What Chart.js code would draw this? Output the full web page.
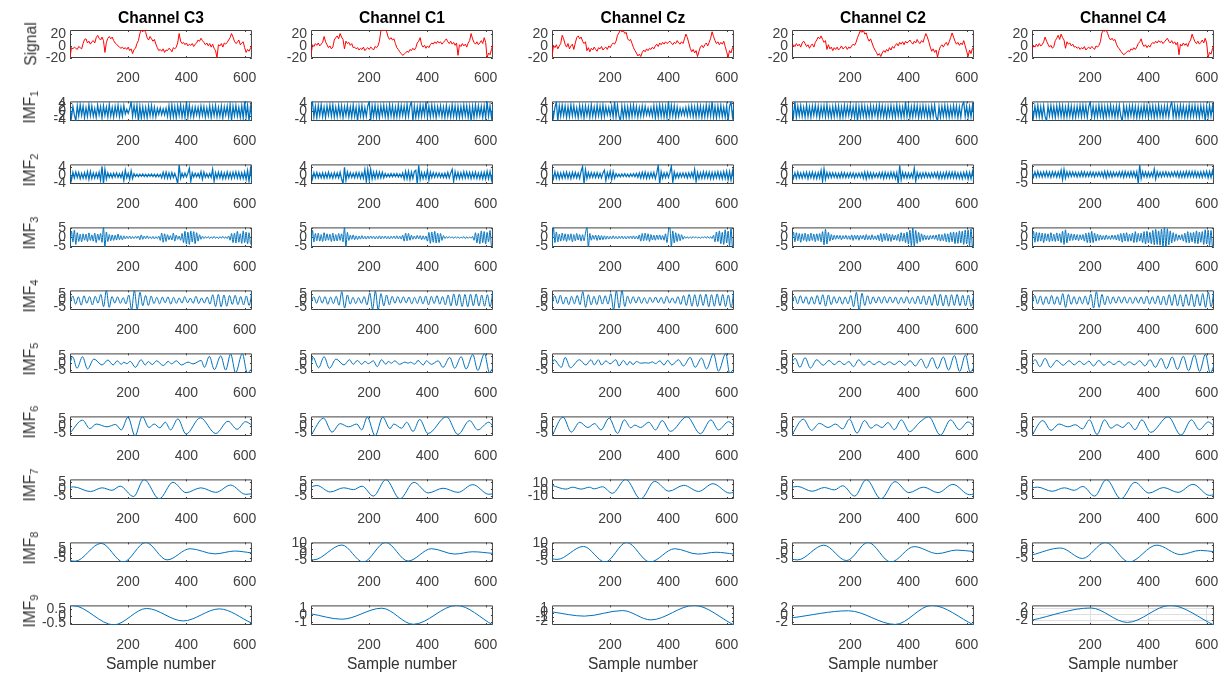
<!DOCTYPE html>
<html>
<head>
<meta charset="utf-8">
<script src="https://cdn.jsdelivr.net/npm/chart.js@4.4.1/dist/chart.umd.min.js"></script>
<style>
  html, body { margin: 0; padding: 0; background: #fff; }
  #fig { position: relative; width: 1224px; height: 673px; overflow: hidden;
         font-family: "Liberation Sans", Arial, Helvetica, sans-serif; }
  #fig canvas { position: absolute; }
  .ylab { position: absolute; font-size: 15.6px; color: #333; white-space: nowrap;
          line-height: 1; transform: translate(-50%, -50%) rotate(-90deg); }
  .ylab sub { font-size: 11px; vertical-align: -3px; }
</style>
</head>
<body>
<div id="fig"></div>
<script>
/* EMD of five EEG channels: raw signal + IMF1..IMF9, x = sample number 1..625 */
const CHANNELS = ['C3', 'C1', 'Cz', 'C2', 'C4'];
const ROW_NAMES = ['Signal', 'IMF', 'IMF', 'IMF', 'IMF', 'IMF', 'IMF', 'IMF', 'IMF', 'IMF'];
const ROW_SUBS  = ['', '1', '2', '3', '4', '5', '6', '7', '8', '9'];
const X_MIN = 1, X_MAX = 625;
const X_TICKS = [200, 400, 600];

/* ---- raw signal, evenly spaced over the samples ---- */
const SIG_C3 = [-20,-3,-5,-2,-4,-6,-1,-3,-5,4, 11,12,5,8,3,7,9,5,14,18, 13,10,15,9,-11,6,13,16,12,15,
  9,5,3,0,-2,-4,-2,-5,-3,-6, -2,-8,-5,-13,-6,-4,4,9,21,27, 24,27,23,14,10,16,12,8,11,3,
  -3,-8,-6,-9,-5,-11,-7,-8,-4,-6, -10,-3,-5,-2,5,21,8,4,6,2, 5,0,3,1,4,-1,3,5,10,8,
  13,9,6,2,5,0,4,-2,3,-4, -8,-20,2,0,4,-2,5,3,6,10, 14,21,15,8,4,6,10,2,5,7, -3,-11,-6,-9,-4,0];
const SIG_C1 = [-16,2,-1,4,1,5,0,3,6,16, 7,2,-3,0,-5,-2,10,14,17,12, 21,15,11,-5,8,4,6,1,4,-3,
  -2,-5,-3,-7,-4,-6,-2,-8,-5,-3, -6,-2,-4,-7,-1,-3,0,8,25,27, 26,27,24,15,11,14,10,12,4,-3,
  -6,-10,-13,-16,-14,-12,-9,-11,-6,-8, -4,-7,-3,5,8,14,2,-2,1,-4, 0,-3,2,5,3,7,4,8,5,7,
  3,6,9,12,7,4,8,3,6,1, 5,-16,2,-1,4,0,3,-2,5,9, 21,12,6,3,7,2,5,9,4,14, 6,-20,-12,-15,-6,2];
const SIG_CZ = [-19,1,-3,2,-5,0,4,18,12,3, -2,4,-5,0,3,-6,5,14,17,12, 15,8,4,7,-8,-3,-10,-4,-7,-2,
  -6,-9,-3,-5,-1,-7,-4,-2,-6,0, -3,2,5,3,8,18,22,27,24,26, 21,23,12,9,11,4,-3,-8,-12,-17,
  -14,-18,-11,-7,-10,-5,-8,-4,-6,-2, -5,0,3,-1,5,2,6,3,7,4, 6,8,5,2,6,4,9,5,3,7,
  4,12,20,14,5,-4,-10,-6,-12,-8, -18,-9,-2,1,-3,2,5,0,6,13, 24,16,9,4,7,2,6,3,8,-1, -10,-19,-8,-12,-3,-5];
const SIG_C2 = [-3,2,-1,4,0,3,-2,5,8,4, -1,2,-4,1,3,-2,6,10,15,12, 17,11,6,9,-6,2,-5,-2,-8,-3,
  -6,-2,-7,-4,0,-5,-3,-1,-6,-2, -4,0,3,1,6,14,20,26,23,27, 20,22,13,8,12,5,-2,-7,-11,-16,
  -13,-18,-12,-8,-11,-6,-9,-3,-7,-1, -4,1,4,0,6,3,7,2,8,5, 7,10,6,3,8,5,11,6,4,9,
  6,14,21,15,7,-2,-9,-5,-11,-7, -19,-8,-1,2,-2,3,6,1,7,14, 22,15,8,3,6,1,5,2,9,0, -9,-18,-7,-13,-4,-6];
const SIG_C4 = [-6,1,-2,3,-1,4,0,2,7,15, 8,3,-2,1,-4,-1,9,13,18,11, 20,14,10,-4,7,3,5,0,3,-2,
  -1,-4,-2,-6,-3,-5,-1,-7,-4,-2, -5,-1,-3,-6,0,-2,1,7,22,26, 25,27,21,14,10,13,9,11,3,-2,
  -5,-9,-12,-15,-13,-11,-8,-10,-5,-7, -3,-6,-2,4,7,12,3,-1,2,-3, 1,-2,3,6,4,8,5,9,6,8,
  4,7,10,13,8,5,9,4,7,2, 6,-15,3,0,5,1,4,-1,6,10, 20,13,7,4,8,3,6,10,5,13, 5,-19,-11,-14,-5,1];

/* ---- IMF1 ---- */
const IMF1_C3 = [1.5,-2.8,2.2,-1.6,-4.4,2.6,-2.1,3.0,-1.8,2.4, -2.9,1.7,-2.3,3.1,-1.9,2.5,-2.2,1.4,-2.7,2.9,
  -1.6,2.2,-3.0,2.6,-1.8,2.0,-2.5,3.2,-2.1,1.8, -2.6,2.3,-1.7,2.8,-2.4,1.9,-2.2,2.7,-1.2,1.0,
  -0.9,1.2,4.5,-2.3,2.6,-1.9,2.8,-4.4,2.4,-3.0, 2.1,-2.6,1.8,-2.9,2.5,-2.0,2.7,-2.3,1.9,-2.5,
  1.4,-1.3,1.6,-1.5,1.2,-1.6,1.5,-2.2,2.6,-2.8, 3.0,-2.4,2.2,-2.9,2.6,-1.8,3.1,-2.5,2.0,-2.7,
  4.5,-2.6,2.9,-2.2,1.8,-2.5,2.0,-1.6,1.9,-2.3, 2.5,-1.8,2.2,-2.6,1.7,-2.1,2.6,-2.8,2.3,-1.9,
  2.7,-2.4,1.8,-2.2,2.5,-3.0,2.1,-1.7,2.4,-2.6, 3.2,-4.3,2.4,-2.0,2.7,-2.2,1.9,-2.8,2.6,-3.1,
  4.5,-2.5,2.8,-4.4,2.2,-2.6];
const IMF1_C1 = [1.8,4.5,-2.6,2.3,-3.0,2.7,-1.9,3.1,-2.4,2.0, -2.8,2.5,-1.7,2.9,-2.2,3.0,-2.6,1.9,-2.4,2.7,
  -2.0,2.6,-2.9,2.2,-1.8,2.8,-2.5,2.1,-2.7,3.0, -2.3,1.9,-4.4,2.4,-2.1,2.8,-2.6,1.8,-2.3,2.5,
  4.5,-4.4,2.6,-2.2,2.9,-2.7,2.3,-3.0,2.5,-1.9, 2.8,-2.4,2.2,-2.9,3.1,-2.1,2.6,-2.8,2.0,-2.5,
  3.0,-2.3,2.7,-1.9,2.4,-2.6,3.2,-2.2,2.5,4.5, -4.3,2.4,-2.8,2.1,-2.5,2.9,-2.2,2.6,-1.8,4.5,
  -2.7,2.3,-2.5,3.0,-2.1,2.4,-2.9,2.2,-1.7,2.6, -2.4,2.0,-2.8,2.7,-2.3,1.9,-2.6,3.1,-2.2,2.5,
  -3.0,2.4,-2.7,2.2,-2.5,2.9,-2.1,2.6,-2.8,2.3, -4.4,2.4,-2.7,3.0,-2.2,2.6,-1.9,2.3,-2.8,2.5,
  -3.0,4.5,-2.2,2.6,-2.9,2.1];
const IMF1_CZ = [2.0,-2.7,1.8,4.3,-4.4,2.6,-2.2,2.9,-1.9,2.5, -2.8,2.2,-2.4,3.0,-2.0,2.6,-2.3,1.7,-2.9,2.7,
  -2.1,2.4,-3.0,2.5,-1.9,2.2,-2.7,3.1,-2.2,2.0, -2.5,2.8,-2.0,2.4,-2.6,2.9,-2.3,2.1,-1.6,1.8,
  -2.0,2.3,-2.5,4.5,-2.6,2.8,-2.2,-4.4,2.5,-2.9, 2.4,-2.7,2.1,-2.8,2.6,-2.3,2.9,-2.1,2.2,-2.6,
  1.8,-2.2,2.5,-2.0,2.3,-1.6,1.5,-1.8,1.7,-2.1, 2.6,-2.9,2.4,-2.5,3.0,-2.2,2.7,-2.6,2.2,-2.8,
  4.5,-2.4,2.8,-2.1,2.5,-2.7,2.0,-2.3,1.5,-1.6, 1.4,-1.7,1.8,-2.0,2.2,-1.9,2.5,-2.4,2.1,-2.6,
  2.7,-2.2,2.4,-2.8,2.0,-2.5,2.9,-2.3,2.6,-2.1, 4.5,-2.6,2.3,-2.9,2.5,-2.2,2.8,-2.4,2.0,-2.7,
  2.6,-4.4,2.3,4.5,-2.5,2.2];
const IMF1_C2 = [2.2,-2.5,4.5,-2.8,2.4,-2.0,2.7,-2.3,1.9,-2.6, 3.0,-2.4,2.1,-2.7,2.5,-1.8,2.8,-2.2,2.4,-2.9,
  2.3,-2.0,2.6,-2.5,3.1,-2.3,1.9,-2.8,2.2,-2.4, 2.7,-2.1,2.5,-2.9,2.0,-2.6,2.8,-2.2,2.4,-1.9,
  2.6,-2.4,2.2,-2.7,2.9,-4.4,2.3,-2.5,2.8,-2.1, 2.4,-2.8,2.0,-2.3,2.7,-2.6,2.2,-1.9,2.5,-2.8,
  3.0,-2.2,2.6,-2.4,2.1,-2.9,2.3,-2.0,2.7,-2.5, 2.2,-2.6,2.9,-2.1,2.4,-2.7,2.0,-2.4,4.5,-2.3,
  2.5,-2.8,2.1,-2.5,2.8,-2.0,2.6,-2.9,2.2,-2.4, 2.7,-2.1,2.3,-2.6,2.0,-2.8,2.5,-2.2,2.9,-2.5,
  -4.4,2.2,-2.7,2.4,-2.1,2.8,-2.5,2.3,-2.6,2.0, -2.4,2.7,-2.2,2.5,-2.9,2.1,-2.6,2.8,4.5,-2.3,
  2.4,-2.7,2.2,-2.5,2.8,-2.0];
const IMF1_C4 = [1.9,-2.6,2.4,-2.2,2.8,-2.5,2.1,-2.9,2.6,-2.3, -4.4,2.5,-2.0,2.7,-2.4,2.2,-2.8,2.5,-2.1,2.9,
  -2.3,2.6,-2.7,2.0,-2.5,2.8,-2.2,2.4,-2.9,2.1, -2.6,2.3,-2.0,2.7,-2.4,2.9,-2.1,2.5,-2.8,2.2,
  4.5,-2.5,2.3,-2.7,2.1,-2.4,2.8,-2.0,2.6,-2.9, 2.2,-2.6,2.5,-2.1,2.9,-2.3,2.0,-2.7,2.4,-2.5,
  2.8,-2.2,-4.4,2.6,-2.4,2.1,-2.8,2.5,-2.0,2.7, -2.5,2.3,-2.9,2.2,-2.6,2.0,-2.4,2.8,-2.1,2.5,
  -2.7,2.4,-2.2,2.6,-2.8,2.1,-2.5,2.9,-2.3,2.0, -2.6,2.4,-2.1,2.7,-2.5,2.2,4.5,-2.4,2.6,-2.8,
  2.1,-2.5,2.8,-2.2,2.4,-2.7,2.0,-2.6,2.9,-2.3, 2.5,-2.1,2.7,-2.4,2.2,-2.8,2.6,-2.0,2.4,-4.4,
  2.3,-2.6,2.8,-2.2,2.5,-2.1];

/* ---- IMF2 ---- */
const IMF2_C3 = [1.2,-2.4,1.5,-1.3,1.6,-1.1,1.4,-1.7,1.0,-1.4, 1.3,-1.5,1.8,-2.0,1.9,-1.6,1.2,-1.4,1.1,-1.3,
  1.5,-2.5,4.5,-4.1,3.0,-1.8,1.2,-1.0,0.9,-1.2, 1.1,-0.9,1.2,-1.0,0.8,-1.1,1.3,-2.6,2.5,-1.2,
  1.0,-2.0,2.2,-1.6,0.8,-0.6,0.5,-0.7,0.6,-0.5, 0.7,-0.6,0.5,-0.7,0.6,-0.5,0.7,-0.6,0.5,-0.8,
  0.6,-0.7,0.5,-1.2,1.5,-1.3,1.6,-1.4,1.2,-1.5, 1.3,-1.1,0.9,-1.2,-4.3,5.3,-1.5,1.0,-0.9,1.1,
  -0.8,1.0,3.5,-3.0,1.2,-0.9,1.0,-0.8,0.9,-1.0, 1.8,-2.0,1.6,-1.0,0.8,-1.1,0.9,-1.0,3.0,-3.0,
  1.3,-1.4,1.6,-1.3,1.5,-1.7,1.2,-1.5,1.6,-1.4, 1.3,-1.6,1.5,-1.2,1.7,-1.4,1.5,-1.6,1.3,-1.5,
  1.6,-2.0,2.4,-3.0,3.2,-2.8];
const IMF2_C1 = [2.0,-1.8,1.3,-1.1,1.4,-1.2,1.0,-1.3,1.2,-1.4, 1.1,-1.3,1.5,-1.2,1.0,-1.4,1.3,-1.1,1.2,-1.3,
  1.5,-1.8,-4.2,4.0,-2.5,1.6,-1.2,1.3,-1.1,1.0, -1.2,1.4,-1.1,1.3,-1.5,1.2,-1.4,2.8,-3.2,3.0,
  -2.4,3.0,-1.8,1.6,-1.5,1.7,-1.4,1.6,-1.3,1.5, -1.2,0.9,-0.8,0.7,-0.8,0.9,-0.7,0.8,-0.6,0.9,
  -0.8,0.7,-0.9,1.2,-1.8,2.0,-1.7,1.9,-2.1,1.6, -1.5,1.8,2.5,-4.3,5.0,-2.0,1.4,-1.6,1.3,-1.5,
  2.5,-2.4,1.6,-1.2,1.3,-1.0,1.2,-0.9,1.1,-1.0, 0.9,-1.1,1.0,-1.2,1.4,-1.3,1.1,3.0,-3.1,1.8,
  -1.5,1.4,-1.6,1.3,-1.5,1.7,-1.4,1.6,-1.3,1.5, -1.6,1.4,-1.3,1.6,-1.5,1.2,-1.6,1.4,-1.7,1.5,
  -1.8,2.0,-1.6,1.9,-2.2,1.6];
const IMF2_CZ = [1.4,-1.6,1.8,-1.5,1.3,-1.7,1.2,-1.5,1.4,-1.3, 1.6,-1.4,1.2,-1.6,1.5,-1.2,1.4,-1.3,1.1,-1.5,
  2.0,4.3,-4.2,2.8,-1.6,1.4,-1.2,1.3,-1.0,1.2, -1.1,1.3,-1.2,1.0,-1.3,1.1,2.5,-2.6,1.4,-1.2,
  2.0,-2.2,1.8,-1.4,0.8,-0.7,0.6,-0.8,0.7,-0.6, 0.8,-0.7,0.6,-0.8,0.7,-0.6,0.8,-0.7,0.9,-1.0,
  1.2,-1.4,1.5,-1.3,1.6,-1.5,1.2,-1.4,1.3,-1.1, 1.4,-1.6,1.2,5.0,-4.3,1.8,-1.4,1.2,-1.1,1.3,
  -1.0,1.2,4.5,-3.5,1.6,-1.3,1.0,-1.2,1.1,-0.9, 1.2,-1.0,1.1,-1.3,1.2,-1.0,1.4,-1.2,3.0,-3.1,
  1.4,-1.6,1.3,-1.5,1.7,-1.4,1.6,-1.3,1.5,-1.7, 1.4,-1.6,1.5,-1.3,1.7,-1.5,1.4,-1.6,1.8,-1.5,
  2.0,-2.2,1.8,-2.4,2.1,-1.9];
const IMF2_C2 = [1.3,-1.5,1.2,-1.4,1.6,-1.3,1.1,-1.4,1.3,-1.2, 1.5,-1.7,1.4,-1.2,1.6,-1.5,1.3,-1.6,1.4,-1.3,
  2.4,-3.0,3.2,-2.0,1.4,-1.2,1.3,-1.1,1.2,-1.0, 1.1,-1.3,1.0,-1.2,1.4,-1.1,1.3,-1.2,1.0,-1.1,
  1.2,-1.0,1.1,-1.3,1.0,-0.9,1.1,-1.0,1.2,-1.4, 1.6,-1.8,1.5,-1.3,1.2,-1.4,1.1,-1.0,0.9,-1.1,
  1.3,-1.2,1.4,-1.6,1.5,-1.3,1.2,-1.4,1.5,-1.2, 1.4,-1.6,1.3,-4.3,5.0,-2.2,1.5,-1.3,1.2,-1.4,
  1.1,-1.3,1.0,-1.2,3.5,-3.0,1.4,-1.2,1.1,-1.3, 1.2,-1.0,1.3,-1.1,1.0,-1.2,1.1,-1.0,1.3,-1.1,
  1.4,-1.6,1.3,-1.5,1.2,-1.4,1.6,-1.3,1.5,-1.2, 1.5,-1.3,1.6,-1.4,1.2,-1.5,1.3,-1.6,1.4,-1.2,
  1.6,-1.8,1.5,-1.7,2.0,-1.9];
const IMF2_C4 = [1.5,-1.7,1.4,-1.6,1.8,-1.5,1.3,-1.6,1.5,-1.4, 1.7,-1.5,1.4,-1.8,1.6,-1.3,1.5,-1.7,1.4,-1.6,
  2.5,-3.2,3.0,-2.2,1.6,-1.4,1.5,-1.3,1.4,-1.2, 1.3,-1.5,1.2,-1.4,1.6,-1.3,1.5,-1.4,1.2,-1.3,
  1.4,-1.2,1.3,-1.5,1.2,-1.1,1.3,-1.2,1.4,-1.6, 1.8,-2.0,1.7,-1.5,1.4,-1.6,1.3,-1.2,1.1,-1.3,
  1.5,-1.4,1.6,-1.8,1.7,-1.5,1.4,-1.6,1.7,-1.4, 1.6,-1.8,1.5,-5.5,5.8,-2.5,1.7,-1.5,1.4,-1.6,
  1.3,-1.5,1.2,-1.4,3.2,-2.8,1.6,-1.4,1.3,-1.5, 1.4,-1.2,1.5,-1.3,1.2,-1.4,1.3,-1.2,1.5,-1.3,
  1.6,-1.8,1.5,-1.7,1.4,-1.6,1.8,-1.5,1.7,-1.4, 1.7,-1.5,1.8,-1.6,1.4,-1.7,1.5,-1.8,1.6,-1.4,
  1.8,-2.0,1.7,-1.9,2.2,-2.1];

/* ---- IMF3 ---- */
const IMF3_C3 = [-5.2,3.5,-2.5,4.0,-3.8,2.6,-2.2,1.8,-2.4,2.0, -1.5,1.8,-2.2,2.5,-1.6,1.4,-2.0,2.4,-2.8,1.9,
  -1.5,2.2,-2.6,5.5,-5.2,3.0,-2.2,1.6,-1.8,1.4, -1.6,1.2,-1.4,1.8,-1.2,1.0,-1.3,0.9,-0.8,0.7,
  -0.6,0.8,-0.7,0.5,-0.6,0.7,-0.5,0.8,-1.2,1.4, -1.0,0.8,-0.7,0.9,-0.6,0.5,-0.7,0.6,-0.8,0.5,
  -0.6,0.7,-1.6,2.4,-2.6,2.0,-2.2,1.5,-1.2,1.0, -1.4,2.4,-2.0,1.3,-1.0,0.8,-1.5,2.2,-2.8,3.4,
  -3.6,3.0,-3.8,3.6,-2.5,3.2,-3.4,2.6,-2.0,1.5, -1.0,0.7,-0.6,0.5,-0.4,0.5,-0.6,0.4,-0.5,0.6,
  -0.5,0.4,-0.6,0.5,-0.4,0.6,-0.5,0.4,-0.6,0.8, -1.5,2.2,-2.8,2.4,-3.0,3.4,-2.6,2.0,-3.2,3.6,
  -2.8,3.0,-3.5,2.6,-3.2,-4.0];
const IMF3_C1 = [-5.0,4.0,-2.5,2.2,-1.8,2.4,-2.0,1.6,-2.2,2.6, -1.8,2.0,-1.5,1.8,-2.2,2.4,-2.0,1.6,-1.9,2.2,
  -1.6,2.0,-2.4,5.5,-5.2,2.8,-1.6,1.2,-1.0,1.4, -1.2,0.9,-1.1,0.8,-0.9,1.0,-0.8,0.7,-0.9,0.8,
  -0.7,0.8,-0.6,0.7,-0.8,0.6,-0.7,0.9,-0.8,0.7, -0.6,0.8,-0.7,0.6,-0.8,0.7,-0.6,0.8,-0.7,0.9,
  -0.8,0.7,-0.9,1.2,-2.0,2.4,-1.8,2.2,-1.5,1.2, -1.0,0.8,-0.9,1.1,-0.8,1.0,-1.2,0.9,-1.0,0.8,
  -2.0,2.8,-3.2,3.0,-2.6,3.4,-3.0,2.4,-2.8,2.2, -1.6,1.0,-0.6,0.5,-0.4,0.5,-0.3,0.4,-0.5,0.4,
  -0.3,0.4,-0.5,0.3,-0.4,0.5,-0.6,0.4,-0.5,0.3, -0.4,0.6,-1.5,2.6,-3.0,2.2,-3.4,3.6,-2.8,3.2,
  -3.6,2.8,-2.4,3.8,-4.5,-5.0];
const IMF3_CZ = [-5.2,5.5,-2.8,3.0,-2.4,1.8,-2.0,2.4,-1.6,2.0, -2.2,1.8,-1.5,2.0,-2.4,1.6,-1.8,2.2,-1.4,1.6,
  -2.0,1.5,-1.8,2.4,5.5,-5.2,2.2,-1.5,1.2,-1.0, 1.3,-1.6,1.2,-1.4,1.0,-1.2,0.9,-1.0,0.8,-0.9,
  0.7,-0.8,0.9,-0.7,0.6,-0.8,0.7,-0.6,0.8,-0.7, 0.6,-0.8,0.7,-0.6,0.8,-0.7,0.9,-0.8,0.7,-0.9,
  1.4,-2.0,2.2,-1.8,2.4,-1.6,2.0,-2.2,1.6,-1.4, 1.2,-1.5,1.3,-1.1,1.4,-1.2,1.0,-1.5,2.0,-2.8,
  3.5,5.4,-5.0,3.6,-3.0,2.6,-2.2,2.0,-1.8,1.5, -1.0,0.6,-0.5,0.4,-0.5,0.3,-0.4,0.5,-0.3,0.4,
  -0.4,0.3,-0.5,0.4,-0.3,0.5,-0.4,0.6,-0.5,0.4, -0.6,1.2,-2.4,3.0,-2.2,3.6,-3.4,2.8,-3.8,4.2,
  -3.0,3.5,-4.6,5.0,-5.2,-3.0];
const IMF3_C2 = [-2.0,3.0,-2.4,2.6,-1.8,2.2,-2.6,2.0,-1.6,2.4, -2.2,1.8,-2.0,2.4,-1.6,1.9,-2.3,2.0,-1.7,2.1,
  -2.4,3.2,-4.0,4.5,-3.6,2.8,-2.0,1.6,-1.4,1.2, -1.0,1.2,-0.9,1.1,-1.3,1.0,-0.8,1.2,-1.0,0.9,
  -1.1,1.4,-1.6,1.2,-1.0,1.3,-1.5,1.1,-0.9,1.2, -1.4,1.6,-1.2,1.0,-1.3,1.5,-1.1,0.9,-1.2,1.4,
  -1.8,2.2,-2.4,2.0,-1.6,2.3,-2.0,1.8,-2.2,1.6, -1.4,1.2,-1.6,1.8,-2.2,2.6,-2.0,2.4,-2.8,3.0,
  -3.6,4.0,-4.5,5.2,-4.8,3.8,-3.2,2.8,-2.4,2.0, -1.6,1.4,-1.2,1.0,-1.3,1.1,-0.9,1.2,-1.0,1.4,
  -1.6,1.8,-2.0,1.6,-1.8,2.2,-2.4,2.0,-2.6,2.8, -2.4,3.0,-3.4,2.8,-3.2,3.6,-3.0,3.4,-3.8,4.0,
  -3.5,4.2,-4.6,4.8,-5.0,-2.5];
const IMF3_C4 = [-3.0,3.5,-2.6,2.8,-2.2,2.6,-2.0,2.4,-2.8,2.2, -1.8,2.0,-2.4,2.6,-2.0,1.8,-2.2,2.5,-1.9,2.1,
  -2.8,3.4,-3.8,4.2,-3.0,2.4,-1.8,2.0,-1.6,1.8, -1.4,1.6,-1.8,1.5,-1.2,1.6,-2.0,2.4,-2.8,2.6,
  -3.0,3.4,-2.8,2.4,-2.0,1.8,-1.6,1.4,-1.2,1.0, -1.2,1.4,-1.0,0.9,-1.1,1.3,-1.0,1.2,-1.4,1.6,
  -1.8,2.2,-2.6,2.4,-2.0,2.6,-2.2,1.8,-2.0,2.4, -2.8,3.2,-2.6,2.2,-2.0,2.4,-2.8,3.2,-3.6,3.4,
  -3.0,2.8,-3.4,3.8,-4.0,4.4,-3.8,3.6,-4.2,4.6, -5.0,5.5,-5.2,4.8,-4.0,3.6,-3.0,2.6,-2.2,2.0,
  -1.6,1.4,-1.2,1.6,-2.0,2.4,-2.8,3.2,-3.0,2.6, -2.4,2.8,-3.2,3.6,-3.4,3.0,-2.6,3.2,-3.8,4.2,
  -3.6,4.0,-4.4,3.8,-4.8,-3.0];

/* ---- IMF4 (one value per half cycle) ---- */
const IMF4_C3 = [-2.5,3.2,-3.0,2.6,-3.8,3.4,-2.4,2.8,-3.6,3.0, -2.2,4.4,-5.0,7.5,-5.5,2.8,-2.2,2.6,-2.4,2.0,
  -2.8,4.0,-7.5,7.5,-7.0,6.0,-4.2,3.6,-4.0,3.2, -2.6,2.2,-2.8,2.4,-2.0,2.6,-3.0,2.2,-2.4,1.8,
  -2.2,2.8,-2.0,1.6,-2.4,3.0,-2.6,1.8,-2.2,2.4, -3.0,4.2,-4.8,4.4,-5.0,4.0,-4.6,3.6,-3.2,3.8,
  -3.4,2.8,-3.6,3.2,-4.0,6.0];
const IMF4_C1 = [-2.0,2.6,-2.4,3.0,-2.2,2.8,-3.2,2.4,-2.6,3.0, -3.8,6.5,-6.0,4.0,-3.0,2.2,-2.6,2.0,-2.4,2.8,
  -3.6,5.5,-7.0,7.0,-7.5,5.0,-4.4,4.0,-3.6,3.0, -2.4,2.8,-2.2,2.6,-2.0,2.4,-2.8,2.2,-2.6,3.0,
  -2.8,3.2,-3.6,3.0,-2.6,3.4,-3.0,2.8,-3.6,4.0, -4.4,4.8,-4.2,4.6,-4.8,4.4,-5.0,4.6,-4.2,4.8,
  -4.4,4.0,-4.6,4.2,-5.0,7.0];
const IMF4_CZ = [-2.8,3.4,-2.6,3.8,-3.0,2.4,-3.4,3.0,-2.8,3.6, -3.4,6.5,-5.5,4.2,-3.6,3.0,-3.4,3.8,-3.0,3.4,
  -3.0,5.0,-7.5,7.0,-6.0,7.5,-4.8,3.2,-2.6,2.8, -2.2,2.6,-2.4,2.0,-2.6,2.2,-1.8,2.4,-2.0,2.2,
  -2.6,3.0,-2.2,1.8,-2.4,2.8,-3.2,3.6,-4.0,4.4, -4.6,4.2,-4.8,4.4,-4.0,4.6,-5.0,4.2,-4.6,4.8,
  -4.2,4.4,-4.8,4.0,-5.5,7.2];
const IMF4_C2 = [-2.6,3.0,-2.8,3.4,-2.4,2.8,-3.2,2.6,-3.0,3.6, -3.2,4.2,-4.6,4.0,-3.4,2.8,-2.4,2.6,-3.0,2.4,
  -2.8,3.6,-5.0,6.0,-7.5,5.2,-4.0,3.4,-3.0,2.6, -2.2,2.6,-2.4,2.8,-2.2,2.6,-2.0,2.4,-2.8,2.2,
  -2.4,2.8,-2.6,2.2,-2.8,3.2,-3.0,3.4,-3.6,3.2, -4.0,4.4,-4.2,4.6,-4.4,4.0,-4.6,4.2,-4.0,4.4,
  -4.2,3.8,-4.4,4.0,-4.6,4.2];
const IMF4_C4 = [-3.0,3.6,-2.8,3.2,-3.4,2.8,-3.0,3.6,-3.2,2.8, -3.6,5.0,-5.5,4.4,-3.2,2.8,-3.0,2.6,-2.8,3.2,
  -3.4,4.6,-6.0,6.5,-5.5,4.4,-3.6,3.2,-2.8,2.6, -2.4,2.8,-2.2,2.6,-2.4,2.2,-2.6,2.4,-2.2,2.6,
  -2.8,3.2,-3.0,2.6,-2.8,3.4,-3.6,3.2,-3.8,4.2, -4.0,4.6,-4.4,4.2,-4.8,4.4,-4.2,4.8,-5.0,4.6,
  -4.4,5.0,-5.5,6.0,-5.0,7.0];

/* ---- IMF5..IMF9: [sample, value] at the turning points ---- */
const IMF5_C3 = [[1,0],[10,4.7],[25,-3.7],[44,4.7],[61,-4.2],[83,3],[111,-1.3],[131,2.3],[149,-1.3],[163,1.7],
  [177,-0.8],[185,0.7],[196,-0.3],[208,1.3],[225,-3],[245,2.5],[259,-1.3],[270,1.2],[283,-1],[298,1.7],
  [321,-1.7],[338,1.3],[349,-0.5],[366,1.7],[383,-1.3],[406,0.8],[423,-0.5],[451,2],[462,-3],[479,5],
  [496,-4.7],[518,5.3],[535,-5],[552,6.7],[569,-7],[592,7],[609,-7],[625,-4]];
const IMF5_C1 = [[1,-0.8],[8,4.2],[27,-3.3],[46,4.7],[64,-3.7],[87,3],[114,-1.3],[133,2.5],[146,-0.8],[160,2],
  [175,-0.8],[186,1.3],[198,-0.3],[215,1.7],[228,-2.5],[243,2.5],[258,-0.8],[266,1.3],[277,0],[288,1.7],
  [305,-0.8],[323,0.8],[334,0],[342,0.7],[357,-0.7],[368,2],[386,-1.3],[397,1.7],[414,-0.8],[437,1.7],
  [454,-3],[477,4.2],[494,-3.7],[516,4.7],[533,-4.2],[556,6.3],[573,-5.3],[596,7],[613,-6.7],[625,-3.3]];
const IMF5_CZ = [[1,0],[8,2.5],[33,-3],[46,4.2],[64,-3.3],[95,2.5],[117,-1.3],[135,2.5],[146,-1.3],[160,2.5],
  [171,-1.3],[186,1.7],[200,-0.5],[220,2.5],[231,-2],[246,2],[259,-1.3],[268,1.3],[279,-1],[291,1.3],
  [305,0],[322,0.3],[333,0],[345,1],[356,-0.3],[371,1.7],[385,-1.3],[398,2],[412,-1.3],[435,2.5],
  [452,-2],[475,4.2],[492,-3],[514,3.7],[531,-4.2],[555,7],[572,-5.8],[597,7],[610,-7],[625,-4.2]];
const IMF5_C2 = [[1,1],[12,3.5],[28,-3],[46,4],[64,-3.5],[86,2.5],[108,-1.5],[128,2],[146,-1],[163,1.5],
  [180,-1],[196,1.2],[212,-2.5],[230,2.5],[248,-1.5],[265,1.5],[282,-1],[300,1.2],[318,-1.2],[335,1],
  [352,-1],[370,1.5],[388,-1.5],[406,1.8],[424,-2],[444,3],[462,-3.5],[482,4],[500,-4],[520,4.5],
  [538,-5],[558,5.5],[576,-6],[596,6],[612,-6.5],[625,-3]];
const IMF5_C4 = [[1,0.5],[12,2.5],[28,-2.5],[46,3.5],[64,-3],[86,2],[108,-1.5],[128,1.8],[146,-1.2],[163,1.5],
  [180,-1],[196,1.5],[212,-2],[230,2],[248,-1.5],[265,1.2],[282,-1],[300,1.5],[318,-1.5],[335,1],
  [352,-1.2],[370,1.8],[388,-2],[406,2.5],[424,-3],[444,3.5],[462,-4],[482,4.5],[500,-4.5],[520,5],
  [538,-5.5],[558,6],[576,-6],[596,6.5],[612,-7],[625,-2]];

const IMF6_C3 = [[1,-5],[44,4.3],[69,-1.8],[91,1.5],[128,-0.5],[157,1.2],[177,-2.7],[200,6.5],[224,-7],[249,6.8],
  [272,-1],[290,1.5],[309,-1.2],[328,2.8],[346,-2.7],[371,5.2],[399,-5.7],[448,6],[501,-5.3],[543,3.5],
  [574,-2.3],[603,3.2],[625,0.7]];
const IMF6_C1 = [[1,-6.5],[44,5.7],[73,-4.3],[101,1.8],[130,-0.5],[158,1.5],[175,-2.7],[194,6.5],[221,-7],[247,6.5],
  [272,-1.8],[285,1.5],[312,-1.5],[329,2.8],[351,-3.8],[374,4.8],[402,-5.3],[466,6.8],[505,-6],[545,4],
  [573,-2.7],[611,2.8],[625,0]];
const IMF6_CZ = [[1,-7],[39,6.5],[67,-4.3],[96,2.8],[124,-1],[147,1.8],[169,-2.7],[197,5.7],[226,-5.2],[249,4.5],
  [271,-1.2],[285,0.7],[305,-1],[333,2.8],[356,-2.7],[379,4],[407,-3.8],[464,6.8],[510,-5.5],[546,4.5],
  [572,-2.7],[607,3.2],[625,0.2]];
const IMF6_C2 = [[1,-6],[40,5],[68,-3],[95,2],[125,-1],[150,1.5],[175,-2],[198,5],[224,-5],[250,4],
  [272,-1.5],[290,1],[310,-1],[330,2.5],[352,-2.5],[376,4.5],[404,-4],[440,3],[470,6.8],[510,-6.5],
  [545,4.5],[575,-2.5],[605,3],[625,0]];
const IMF6_C4 = [[1,-6.5],[38,4],[66,-3],[94,1.5],[124,-0.5],[150,1],[174,-2],[198,4.5],[224,-6],[250,4.5],
  [272,-1.5],[292,1],[312,-1],[332,2.5],[354,-2.5],[378,4.5],[408,-4.5],[468,6.8],[512,-6.5],[548,4.5],
  [575,-2.5],[606,3],[625,0]];

const IMF7_C3 = [[1,1.3],[13,1.7],[71,-1.7],[111,1],[145,-0.8],[173,2.2],[219,-5.3],[255,7],[307,-7],[354,5],
  [399,-2.5],[450,1],[501,-2.3],[552,3],[603,-3.7],[625,-3.3]];
const IMF7_C1 = [[1,1.7],[21,2.7],[67,-2],[113,1],[147,-0.3],[176,2.2],[215,-5],[258,7],[306,-7],[354,5],
  [403,-2.7],[454,0.7],[505,-2.3],[556,3.3],[611,-3.7],[625,-3.2]];
const IMF7_CZ = [[1,7.2],[49,1.4],[72,4.3],[101,1.4],[129,4.3],[146,1.8],[174,5],[208,-5],[254,16.3],[305,-13.8],
  [353,13.3],[402,-1.8],[453,7.2],[504,-2.2],[553,9.7],[610,-4.7],[625,-3.6]];
const IMF7_C2 = [[1,1.5],[20,2],[70,-1.5],[112,1.2],[146,-0.5],[175,2.5],[216,-5],[256,7],[306,-7],[354,5.5],
  [402,-2.5],[452,1.5],[502,-2.5],[553,3.5],[610,-4],[625,-3.5]];
const IMF7_C4 = [[1,1],[20,1.5],[70,-1.5],[112,1],[146,-0.8],[175,2],[216,-5],[256,7],[306,-7],[354,5],
  [402,-2.8],[452,1.2],[502,-2.3],[553,3.5],[610,-4.5],[625,-4]];

const IMF8_C3 = [[1,-7],[18,-7.8],[108,9.2],[184,-8.5],[261,10.1],[334,-6.5],[413,4.1],[498,-0.8],[566,1.9],[625,0.1]];
const IMF8_C1 = [[1,-4],[10,-5],[107,8.6],[180,-7],[257,11],[334,-6.1],[414,5.2],[494,0.3],[556,2.4],[625,0.9]];
const IMF8_CZ = [[1,-3.2],[18,-3.7],[109,7],[183,-5.8],[257,10.3],[337,-5.8],[422,5.1],[501,0.7],[564,2.2],[625,0.7]];
const IMF8_C2 = [[1,-5],[20,-5.5],[110,5],[188,-6],[262,7],[340,-7],[420,4],[500,-1],[565,1.5],[625,0.5]];
const IMF8_C4 = [[1,-2.6],[99,2.7],[174,-5.3],[253,7],[334,-8],[429,4.9],[510,-2.3],[579,0.9],[625,-0.1]];

const IMF9_C3 = [[1,0.72],[10,0.73],[151,-0.6],[264,0.53],[389,-0.33],[513,0.5],[625,-0.49]];
const IMF9_C1 = [[1,0.17],[107,-0.6],[244,0.97],[352,-1.33],[500,1.37],[625,-1.43]];
const IMF9_CZ = [[1,0.17],[112,-0.85],[243,0.5],[340,-1.76],[488,1.75],[625,-3.0]];
const IMF9_C2 = [[1,-0.8],[195,1.2],[355,-2.7],[480,2.74],[625,-2.86]];
const IMF9_C4 = [[1,-2.0],[203,2.16],[328,-2.8],[475,3.04],[625,-3.68]];

/* axis limits and tick values, one row per subplot row, one entry per channel */
const Y_RANGE = [
  [[-20.5,27],[-20.5,27],[-20.5,27],[-20.5,27],[-20.5,27]],
  [[-4.4,4.6],[-4.4,4.6],[-4.4,4.6],[-4.4,4.6],[-4.4,4.6]],
  [[-4.3,5.4],[-4.3,5.4],[-4.3,5.4],[-4.3,5.4],[-5.8,6.0]],
  [[-5.2,5.5],[-5.2,5.5],[-5.2,5.5],[-5.2,5.5],[-5.2,5.5]],
  [[-7.5,7.5],[-7.5,7.5],[-7.5,7.5],[-7.5,7.5],[-7.5,7.5]],
  [[-7.1,7.1],[-7.1,7.1],[-7.1,7.1],[-7.1,7.1],[-7.1,7.1]],
  [[-7.1,7.0],[-7.1,7.0],[-7.1,7.0],[-7.1,7.0],[-7.1,7.0]],
  [[-7.1,7.1],[-7.1,7.1],[-13.8,16.3],[-7.1,7.1],[-7.1,7.1]],
  [[-8.5,10.1],[-7,11],[-5.8,10.3],[-7,7],[-8,7]],
  [[-0.61,0.74],[-1.43,1.37],[-3.0,1.75],[-2.86,2.74],[-3.68,3.04]]
];
const Y_TICKS = [
  [[-20,0,20],[-20,0,20],[-20,0,20],[-20,0,20],[-20,0,20]],
  [[-4,-2,0,2,4],[-4,0,4],[-4,0,4],[-4,0,4],[-4,0,4]],
  [[-4,0,4],[-4,0,4],[-4,0,4],[-4,0,4],[-5,0,5]],
  [[-5,0,5],[-5,0,5],[-5,0,5],[-5,0,5],[-5,0,5]],
  [[-5,0,5],[-5,0,5],[-5,0,5],[-5,0,5],[-5,0,5]],
  [[-5,0,5],[-5,0,5],[-5,0,5],[-5,0,5],[-5,0,5]],
  [[-5,0,5],[-5,0,5],[-5,0,5],[-5,0,5],[-5,0,5]],
  [[-5,0,5],[-5,0,5],[-10,0,10],[-5,0,5],[-5,0,5]],
  [[-5,0,5],[-5,0,5,10],[-5,0,5,10],[-5,0,5],[-5,0,5]],
  [[-0.5,0,0.5],[-1,0,1],[-2,-1,0,1],[-2,0,2],[-2,0,2]]
];

const SERIES = [
  [SIG_C3, SIG_C1, SIG_CZ, SIG_C2, SIG_C4],
  [IMF1_C3, IMF1_C1, IMF1_CZ, IMF1_C2, IMF1_C4],
  [IMF2_C3, IMF2_C1, IMF2_CZ, IMF2_C2, IMF2_C4],
  [IMF3_C3, IMF3_C1, IMF3_CZ, IMF3_C2, IMF3_C4],
  [IMF4_C3, IMF4_C1, IMF4_CZ, IMF4_C2, IMF4_C4],
  [IMF5_C3, IMF5_C1, IMF5_CZ, IMF5_C2, IMF5_C4],
  [IMF6_C3, IMF6_C1, IMF6_CZ, IMF6_C2, IMF6_C4],
  [IMF7_C3, IMF7_C1, IMF7_CZ, IMF7_C2, IMF7_C4],
  [IMF8_C3, IMF8_C1, IMF8_CZ, IMF8_C2, IMF8_C4],
  [IMF9_C3, IMF9_C1, IMF9_CZ, IMF9_C2, IMF9_C4]
];
const GRID_ON = [[9, 4]];   // only C4 / IMF9 has grid lines

/* ---- layout (MATLAB subplot grid) ---- */
const FONT = '"Liberation Sans", Arial, Helvetica, sans-serif';
const AX = '#404040';
const COL_LEFT = [70, 311, 552, 792, 1032];
const PLOT_W = 183, PLOT_H = 28;
const ROW_TOP = [30, 93, 156, 219, 282, 345, 408, 471, 534, 597];
const YAX_W = 45, PAD_T = 4, PAD_R = 16, TITLE_H = 22;

function toPoints(arr) {
  if (Array.isArray(arr[0])) return arr.map(([x, y]) => ({ x, y }));
  const n = arr.length;
  return arr.map((y, i) => ({ x: X_MIN + i * (X_MAX - X_MIN) / (n - 1), y }));
}

/* MATLAB style box with inward ticks on all four sides */
const matlabBox = {
  id: 'matlabBox',
  beforeDatasetsDraw(chart) {
    const { ctx, chartArea: a, scales: { x, y } } = chart;
    const t = 2;
    ctx.save();
    ctx.strokeStyle = AX; ctx.lineWidth = 1;
    ctx.beginPath();
    ctx.rect(a.left + 0.5, a.top + 0.5, a.right - a.left - 1, a.bottom - a.top - 1);
    x.ticks.forEach(tk => {
      const px = Math.round(x.getPixelForValue(tk.value)) + 0.5;
      ctx.moveTo(px, a.bottom); ctx.lineTo(px, a.bottom - t);
      ctx.moveTo(px, a.top); ctx.lineTo(px, a.top + t);
    });
    y.ticks.forEach(tk => {
      const py = Math.round(y.getPixelForValue(tk.value)) + 0.5;
      ctx.moveTo(a.left, py); ctx.lineTo(a.left + t, py);
      ctx.moveTo(a.right, py); ctx.lineTo(a.right - t, py);
    });
    ctx.stroke();
    ctx.restore();
  }
};

const fig = document.getElementById('fig');

for (let r = 0; r < SERIES.length; r++) {
  for (let c = 0; c < CHANNELS.length; c++) {
    const top = r === 0, bottom = r === SERIES.length - 1;
    const titleH = top ? TITLE_H : 0;
    const xAxH = bottom ? 49 : 26;
    const cv = document.createElement('canvas');
    cv.width = YAX_W + PLOT_W + PAD_R;
    cv.height = PAD_T + titleH + PLOT_H + xAxH;
    cv.style.left = (COL_LEFT[c] - YAX_W) + 'px';
    cv.style.top = (ROW_TOP[r] - PAD_T - titleH) + 'px';
    fig.appendChild(cv);

    const grid = GRID_ON.some(([gr, gc]) => gr === r && gc === c);
    const [ymin, ymax] = Y_RANGE[r][c];
    const yt = Y_TICKS[r][c];

    new Chart(cv, {
      type: 'line',
      data: { datasets: [{
        data: toPoints(SERIES[r][c]),
        borderColor: r === 0 ? '#ff0000' : '#0072bd',
        borderWidth: (r === 1 || r === 2) ? 1.25 : 1,
        pointRadius: 0,
        tension: 0,
        cubicInterpolationMode: r >= 3 ? 'monotone' : 'default'
      }] },
      options: {
        responsive: false, animation: false, devicePixelRatio: 1, events: [],
        layout: { padding: { left: 0, right: PAD_R, top: PAD_T, bottom: 0 } },
        plugins: {
          legend: { display: false }, tooltip: { enabled: false },
          title: {
            display: top, text: 'Channel ' + CHANNELS[c], color: '#000', fullSize: false,
            font: { family: FONT, size: 15.6, weight: 'bold', lineHeight: 1.218 },
            padding: { top: 1, bottom: 2 }
          }
        },
        scales: {
          x: {
            type: 'linear', min: X_MIN, max: X_MAX, offset: false,
            afterBuildTicks: s => { s.ticks = X_TICKS.map(v => ({ value: v })); },
            afterFit: s => { s.height = xAxH; },
            grid: { display: grid, drawTicks: false, color: '#dfdfdf' },
            border: { display: false },
            ticks: { autoSkip: false, maxRotation: 0, padding: 12, color: AX,
                     font: { family: FONT, size: 14 }, callback: v => String(v) },
            title: { display: bottom, text: 'Sample number', color: '#333',
                     font: { family: FONT, size: 15.6, lineHeight: 1.2 }, padding: { top: 0, bottom: 0 } }
          },
          y: {
            min: ymin, max: ymax,
            afterBuildTicks: s => { s.ticks = yt.map(v => ({ value: v })); },
            afterFit: s => { s.width = YAX_W; },
            grid: { display: grid, drawTicks: false, color: '#dfdfdf' },
            border: { display: false },
            ticks: { autoSkip: false, padding: 4, color: AX,
                     font: { family: FONT, size: 14 }, callback: v => String(v) }
          }
        }
      },
      plugins: [matlabBox]
    });
  }
  /* row label on the left of the first column */
  const lab = document.createElement('div');
  lab.className = 'ylab';
  lab.innerHTML = ROW_NAMES[r] + (ROW_SUBS[r] ? '<sub>' + ROW_SUBS[r] + '</sub>' : '');
  lab.style.left = '31px';
  lab.style.top = (ROW_TOP[r] + PLOT_H / 2) + 'px';
  fig.appendChild(lab);
}
</script>
</body>
</html>
